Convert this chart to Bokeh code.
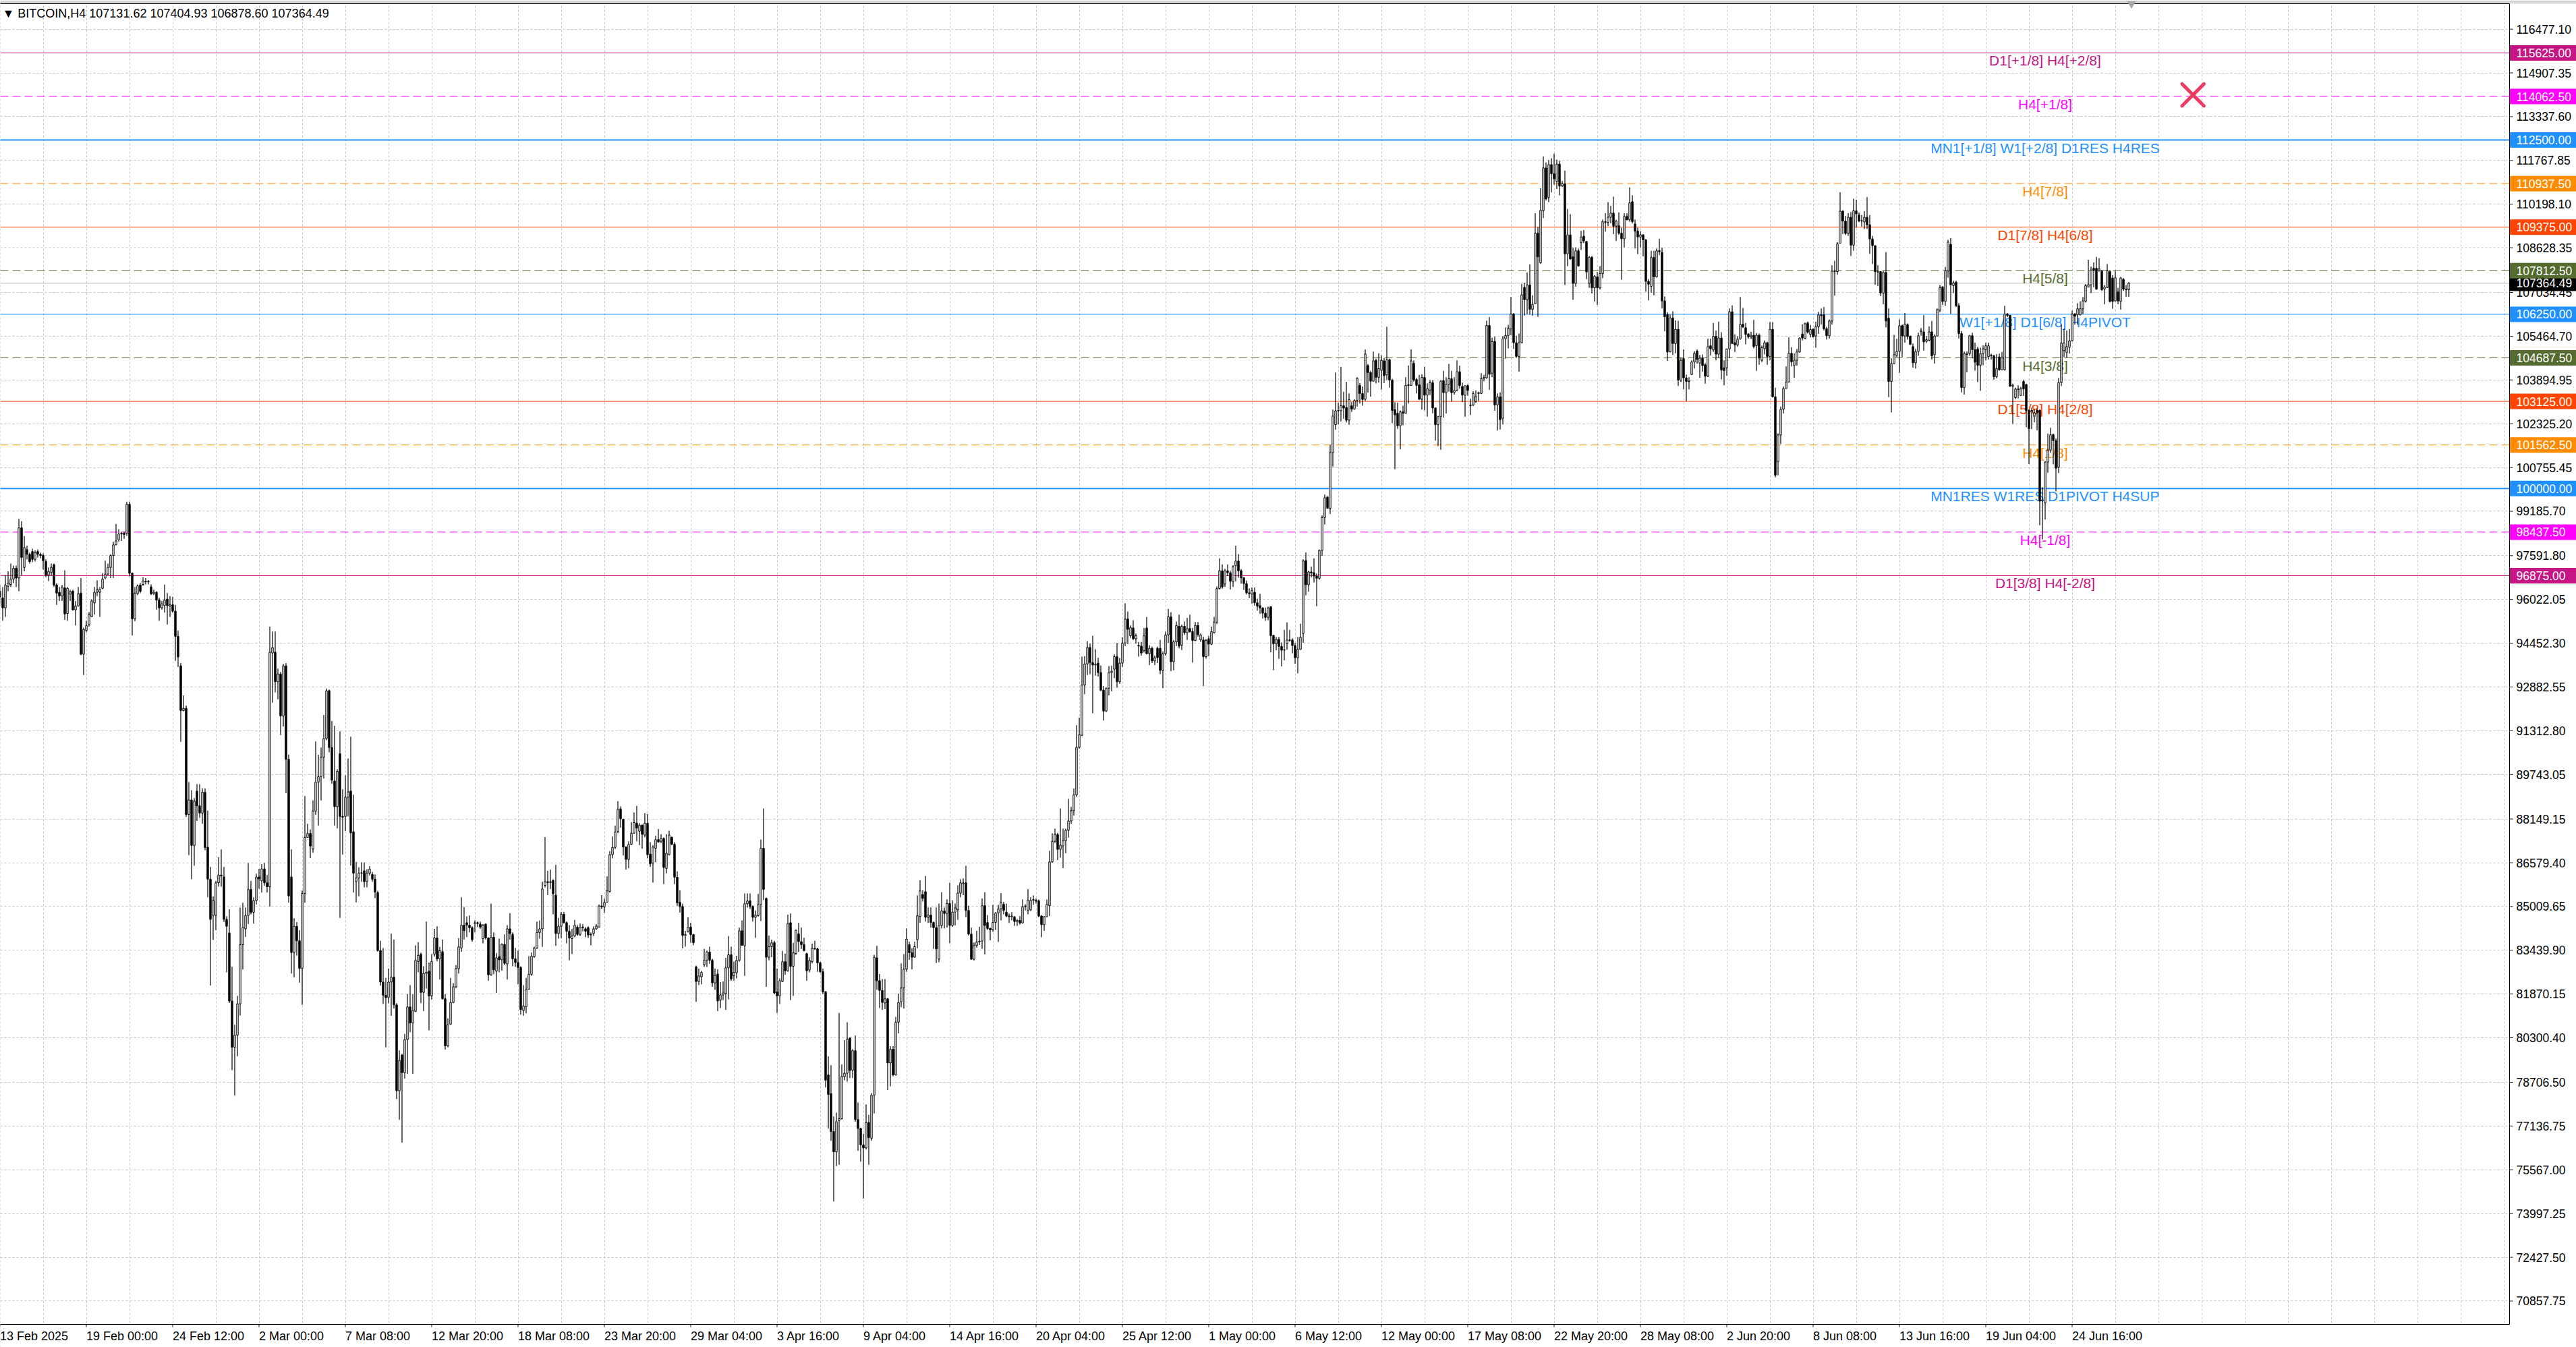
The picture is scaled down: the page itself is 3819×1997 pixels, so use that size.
import numpy as np
from bokeh.plotting import figure
from bokeh.models import FixedTicker, Span, BoxAnnotation, Range1d
from bokeh.core.properties import value
from bokeh.embed import file_html
from bokeh.resources import INLINE

# BITCOIN H4 candles (bar index 0 = 13 Feb 2025 12:00)
opens = [
    96320, 96080, 95720, 96490, 96560, 96750, 97140, 96790, 98590, 97170,
    97810, 97640, 97740, 97460, 97740, 97640, 97600, 97380, 96890, 96990,
    97270, 96540, 96280, 96140, 96440, 95520, 96210, 96320, 95650, 95790,
    96250, 94060, 94910, 95120, 95410, 95900, 96280, 96280, 96420, 96790,
    96930, 97170, 97600, 97980, 98160, 98370, 98400, 98400, 99440, 96960,
    95330, 96230, 96540, 96560, 96680, 96650, 96470, 96230, 96280, 96000,
    95720, 95800, 96040, 95790, 95830, 95600, 94700, 93640, 92040, 92120,
    88310, 88830, 87200, 89150, 88620, 88360, 89110, 87130, 85990, 84690,
    84690, 85860, 86140, 86070, 84550, 84060, 81620, 79960, 80390, 81520,
    83640, 84210, 84690, 85620, 84800, 85220, 86070, 85930, 86360, 85860,
    85720, 94100, 94130, 93070, 93350, 91840, 93640, 90290, 86070, 83360,
    84300, 83780, 82790, 85480, 87490, 87630, 87070, 88430, 89470, 89670,
    90360, 91030, 92750, 90710, 89510, 88590, 90490, 88240, 88240, 88930,
    89150, 87690, 85900, 86030, 86200, 86290, 85900, 86200, 86160, 85990,
    85510, 83430, 82300, 81830, 81740, 82300, 82480, 81480, 78400, 79680,
    79050, 80240, 81410, 80830, 81250, 83040, 83300, 81930, 82610, 82690,
    81800, 83300, 83880, 83130, 83390, 81700, 80010, 80790, 81570, 82130,
    82780, 83520, 84340, 84430, 84340, 84250, 84400, 84430, 84380, 83860,
    84380, 83880, 82560, 83910, 82690, 83210, 83100, 83650, 82950, 84210,
    84010, 83130, 83000, 82820, 81280, 81410, 82040, 82580, 83210, 83520,
    84080, 84210, 85770, 85900, 85870, 85940, 85420, 84040, 84300, 84730,
    84430, 84120, 83860, 83950, 84270, 84010, 84270, 84210, 84250, 83990,
    84040, 84210, 84270, 85030, 84990, 85160, 85550, 86870, 87130, 87700,
    88510, 88140, 87140, 86700, 87240, 87640, 88000, 87710, 87930, 87570,
    88000, 86890, 86560, 87100, 87410, 87350, 87450, 86380, 86870, 87490,
    87240, 86060, 85160, 85010, 83970, 84110, 84270, 84000, 82840, 82320,
    82490, 82920, 83080, 83380, 83080, 82270, 82590, 81650, 81840, 81890,
    82810, 83280, 82520, 82630, 83080, 84140, 83600, 85110, 85210, 85010,
    84620, 84680, 85080, 87100, 85300, 83190, 83570, 83710, 81950, 81800,
    82320, 83030, 82700, 84430, 82860, 83320, 84030, 83750, 83640, 83320,
    82730, 83030, 83510, 83490, 82990, 82670, 81950, 78970, 78300, 76940,
    76210, 77330, 77400, 78900, 79030, 80290, 79130, 79840, 77370, 77050,
    76460, 76350, 77260, 76700, 78240, 83170, 82350, 82000, 81550, 81700,
    79400, 79890, 78970, 80860, 81590, 82090, 82760, 83640, 83350, 83190,
    83820, 84650, 85440, 85540, 84620, 84700, 84440, 84250, 83120, 84330,
    84850, 84760, 85120, 84330, 84810, 84890, 85490, 85830, 85860, 84870,
    84020, 83120, 83610, 83740, 83770, 85040, 84440, 84220, 84170, 84440,
    84780, 84920, 85090, 84810, 84670, 84640, 84640, 84470, 84510, 84420,
    85000, 84870, 84890, 85230, 85230, 85210, 84670, 84360, 84640, 85040,
    86610, 87350, 87590, 87060, 87180, 87370, 87740, 88080, 88450, 89010,
    90720, 91150, 92950, 93710, 94300, 93760, 93670, 93740, 93400, 92770,
    92020, 92840, 93400, 93520, 93970, 93070, 93740, 94460, 95320, 94720,
    95000, 94610, 94380, 94350, 94190, 95000, 94080, 94270, 93820, 94270,
    94270, 93480, 94080, 94750, 95400, 93790, 94500, 95060, 94380, 95060,
    94830, 94980, 94870, 94550, 95090, 94570, 94570, 93970, 94610, 94420,
    94830, 95210, 96410, 97050, 96580, 97050, 96980, 96670, 97230, 97400,
    97050, 96800, 96590, 96260, 96210, 96280, 95900, 95800, 95720, 95530,
    95380, 95760, 94730, 94430, 94590, 94340, 94200, 94450, 94570, 94570,
    94370, 93930, 94230, 94800, 97420, 96550, 97010, 96980, 96860, 96780,
    97780, 98960, 99690, 99290, 101290, 102290, 102790, 102790, 102970, 102910,
    102450, 102970, 102850, 103160, 103700, 103410, 103200, 104410, 104160, 103850,
    104600, 103990, 104240, 104580, 104080, 104620, 103890, 102830, 102700, 102250,
    102750, 102700, 103720, 103700, 104490, 103910, 103720, 103200, 103990, 103350,
    103520, 103800, 102890, 102290, 102580, 103870, 103440, 103740, 103940, 103440,
    103520, 104190, 103660, 103350, 103690, 102970, 103000, 103120, 103410, 103410,
    103940, 103970, 105850, 104140, 105280, 103000, 103290, 102520, 105370, 105490,
    105720, 106260, 105230, 104740, 105230, 107220, 106770, 107300, 106430, 106620,
    109160, 108100, 109960, 111500, 110440, 111620, 111290, 111010, 111640, 110850,
    110930, 108420, 109100, 108310, 107360, 108530, 108820, 109050, 108860, 107360,
    108290, 107200, 107590, 107200, 107710, 109570, 109550, 109730, 109880, 109410,
    109430, 109160, 108960, 109760, 109640, 110290, 109490, 109230, 109020, 109100,
    108920, 107430, 107250, 108290, 107590, 108530, 108470, 106730, 106240, 104900,
    106120, 105200, 105710, 103890, 104660, 103970, 103840, 104090, 104540, 104930,
    104500, 104680, 104440, 104030, 105120, 104970, 105460, 104820, 105400, 104330,
    104330, 105010, 106340, 105230, 105150, 105360, 105890, 105770, 105540, 105440,
    105500, 105120, 105500, 104600, 105010, 105230, 104740, 105710, 103290, 100970,
    101920, 102840, 103590, 103820, 104850, 104410, 104600, 104900, 105540, 105380,
    105940, 105530, 105710, 105470, 105800, 106230, 106230, 105730, 105480, 106010,
    107800, 107780, 108800, 109950, 109590, 109150, 109730, 108730, 109960, 109810,
    109590, 109560, 109730, 109460, 108950, 108710, 107780, 107780, 107010, 107750,
    106110, 103840, 104480, 104780, 104920, 105840, 105470, 105880, 105470, 105090,
    104510, 104920, 105630, 105620, 105280, 105320, 105620, 104800, 105470, 106400,
    107230, 106710, 107800, 108760, 107280, 107400, 106560, 105560, 103620, 104810,
    104840, 105480, 104980, 105010, 104420, 104840, 104980, 104730, 104780, 104760,
    104010, 104720, 104260, 104260, 106260, 106210, 103670, 103260, 103570, 103340,
    103840, 103730, 102800, 102750, 102590, 102800, 102800, 99550, 99490, 100950,
    101380, 101930, 101720, 100760, 103800, 104950, 104880, 105070, 105300, 106260,
    106230, 106230, 106450, 106710, 107230, 107300, 107900, 107900, 107810, 107810,
    107150, 107210, 107780, 107550, 106730, 107050, 106710, 107510, 107150, 107131.62,
]

highs = [
    96540, 96470, 96890, 97030, 97310, 97240, 97240, 98910, 98830, 98300,
    97950, 97700, 97840, 97780, 97810, 97700, 97670, 97460, 97170, 97310,
    97310, 96610, 96470, 96540, 97070, 96470, 96370, 96370, 95970, 96470,
    96790, 95010, 95260, 95570, 96030, 96470, 96710, 96470, 96960, 97410,
    97310, 97640, 98090, 98730, 98540, 98450, 98450, 99530, 99530, 96990,
    96470, 96560, 96610, 96820, 96790, 96720, 96560, 96370, 96320, 96080,
    95970, 96560, 96250, 96140, 96110, 95830, 94910, 93740, 92580, 92220,
    89470, 89180, 88900, 89400, 89400, 89250, 89250, 88450, 86430, 85370,
    85930, 86780, 87060, 86430, 84660, 84910, 82850, 80770, 81800, 84970,
    85150, 84970, 86570, 85930, 85340, 86190, 86360, 86530, 86570, 86140,
    95050, 94870, 94870, 93540, 93430, 93710, 93740, 90460, 87060, 84590,
    84450, 84160, 85580, 88970, 87980, 87770, 88820, 90930, 90450, 90710,
    91880, 92830, 92790, 91660, 91490, 89930, 91290, 89210, 89710, 90320,
    91100, 89020, 86610, 86420, 86590, 86590, 86350, 86460, 86250, 86160,
    85570, 83780, 83520, 82450, 82780, 84040, 83820, 81540, 79850, 79720,
    80440, 81870, 82190, 81870, 83620, 83730, 83360, 82870, 84470, 83000,
    83300, 84210, 84300, 83560, 83820, 81870, 81000, 82450, 82260, 82910,
    83880, 85340, 84990, 84660, 84690, 84300, 84510, 84470, 84470, 84380,
    84400, 83910, 85120, 84080, 83340, 83860, 83690, 84010, 84340, 84770,
    84080, 83520, 83430, 82870, 82190, 82450, 83230, 83360, 83560, 84470,
    84510, 85900, 87500, 86290, 86330, 85990, 86510, 84600, 84820, 84820,
    84470, 84340, 84210, 84530, 84340, 84400, 84380, 84270, 84300, 84080,
    84300, 84380, 85080, 85420, 85290, 86090, 87000, 87520, 87910, 88790,
    88600, 88160, 87170, 87350, 88030, 88380, 88620, 88000, 87950, 88360,
    88330, 87320, 87210, 87540, 87790, 87600, 87490, 87600, 87730, 87520,
    87320, 86270, 85590, 85110, 84140, 84620, 84430, 84030, 82890, 82780,
    82700, 83490, 83430, 83570, 83140, 82780, 82760, 82300, 82320, 83170,
    83950, 83570, 83030, 83240, 84250, 84510, 85480, 85480, 85480, 85050,
    84870, 85460, 87410, 88530, 85330, 83970, 83820, 83780, 82780, 82430,
    83410, 83320, 84720, 84760, 83710, 84180, 84430, 84250, 83890, 83350,
    83190, 83680, 83780, 83530, 83030, 82780, 81980, 79640, 79320, 77480,
    77620, 81190, 79350, 80220, 80860, 80320, 79890, 80380, 77980, 77080,
    76860, 77910, 77540, 78320, 83280, 83600, 82590, 82410, 82410, 81730,
    80000, 80000, 81050, 81890, 82970, 83300, 84220, 83750, 83510, 83750,
    85410, 85950, 85590, 86110, 84980, 84980, 84470, 84980, 85120, 85520,
    84980, 85260, 85860, 85230, 85120, 85770, 85990, 86020, 86470, 85040,
    84250, 83720, 84140, 84280, 85300, 85520, 84700, 84250, 85070, 84810,
    85070, 85490, 85180, 85120, 84760, 84810, 84670, 84550, 84670, 85260,
    85090, 85630, 85340, 85410, 85300, 85260, 84700, 84670, 85260, 87010,
    87630, 87800, 87660, 88530, 87800, 87800, 88870, 88580, 89240, 91510,
    91790, 93970, 93990, 94530, 94440, 94720, 94240, 93930, 93650, 92920,
    92860, 93630, 93650, 94050, 94460, 93930, 94660, 95880, 95590, 95090,
    95280, 94800, 94500, 94500, 95000, 95400, 94380, 94330, 94010, 94330,
    94570, 94160, 94870, 95680, 95570, 94570, 95230, 95480, 95120, 95230,
    95360, 95480, 95000, 95210, 95210, 94800, 94690, 94610, 94720, 95050,
    95400, 96490, 97500, 97280, 97120, 97280, 97050, 97250, 97950, 97650,
    97110, 96810, 96700, 96420, 96450, 96450, 96050, 96230, 95730, 95730,
    95760, 95780, 94760, 94680, 94680, 94480, 94930, 95200, 94930, 94630,
    94470, 94680, 95150, 97460, 97710, 97050, 97200, 97500, 96950, 97810,
    99040, 99790, 99730, 101560, 102830, 104160, 103080, 104370, 103470, 103830,
    103410, 103100, 103200, 103990, 103790, 103660, 104990, 104470, 104220, 104910,
    104660, 104850, 104770, 104680, 105800, 104660, 103940, 103100, 103080, 102800,
    102970, 103990, 104410, 104990, 104600, 103970, 104080, 104100, 104370, 103770,
    103890, 103890, 102910, 102600, 103890, 104220, 103990, 104470, 104220, 103990,
    104600, 104410, 103800, 103700, 103740, 103220, 103490, 103520, 103470, 104140,
    104080, 106020, 106150, 105410, 105450, 103410, 103450, 105470, 105780, 105870,
    106870, 106300, 105480, 105560, 107340, 107380, 107750, 108040, 106930, 109880,
    109390, 110770, 111910, 111700, 111780, 111850, 112010, 111800, 111750, 111030,
    111400, 110030, 109840, 108640, 108650, 108610, 109240, 109270, 108880, 108340,
    108340, 107650, 107770, 107980, 109650, 109880, 110270, 110140, 110470, 109640,
    109900, 109350, 109880, 109880, 110800, 110520, 109650, 109350, 109230, 109130,
    108940, 107510, 108530, 108530, 108610, 108960, 108640, 106890, 106320, 106240,
    106360, 106030, 106020, 104680, 104990, 104090, 103990, 104600, 104930, 104990,
    104790, 104810, 104500, 105380, 105380, 105940, 105670, 105990, 105610, 104600,
    105010, 106460, 106570, 105530, 105460, 106870, 106480, 105940, 105580, 105620,
    106050, 105580, 105560, 105130, 105310, 105260, 105970, 105970, 103620, 101980,
    102940, 103660, 104380, 105420, 105070, 104850, 105010, 105420, 105890, 105950,
    105990, 105870, 105750, 105980, 106340, 106460, 106510, 105800, 106070, 108010,
    108170, 108840, 110630, 109980, 109780, 109880, 109920, 110400, 110360, 109900,
    109810, 109950, 110450, 109810, 109060, 108730, 108010, 107800, 107810, 108480,
    106460, 104670, 105510, 105370, 106070, 105880, 106300, 105920, 105480, 105200,
    105010, 105590, 105760, 106220, 105470, 105820, 106010, 105530, 106460, 107300,
    107260, 107950, 108920, 108980, 107460, 107460, 106650, 105650, 104920, 104920,
    105510, 105590, 105230, 105090, 105050, 105130, 105230, 105230, 104840, 104800,
    104820, 104840, 104900, 106550, 106300, 106230, 103760, 103620, 103700, 103650,
    103900, 103760, 102840, 102900, 102840, 102880, 102840, 100050, 100980, 101970,
    102180, 101970, 101800, 103970, 105880, 105730, 105670, 105720, 106380, 106300,
    106650, 106710, 106870, 107340, 108210, 107960, 108110, 108310, 108260, 107840,
    107300, 108050, 107840, 107650, 107810, 107200, 107590, 107550, 107300, 107404.93,
]

lows = [
    95830, 95260, 95400, 96320, 96470, 96610, 96470, 96320, 96890, 97030,
    97460, 97310, 97360, 97380, 97530, 97500, 97100, 96820, 96680, 96890,
    96470, 95830, 95970, 95970, 95290, 95260, 95970, 95620, 95090, 95760,
    94020, 93310, 94840, 95050, 95400, 95480, 96140, 95400, 96390, 96750,
    96890, 96790, 96790, 97970, 98090, 98120, 98200, 98300, 96850, 94730,
    95240, 96180, 96250, 96510, 96560, 96560, 96180, 96180, 95660, 95260,
    95660, 95550, 95120, 95400, 95550, 93820, 93600, 90920, 92010, 88220,
    86850, 85990, 86470, 88080, 88190, 87980, 87030, 85340, 82180, 83810,
    84160, 85720, 85720, 84450, 82650, 81550, 79140, 78230, 79640, 81100,
    82750, 83920, 84380, 84730, 84400, 85080, 85650, 85510, 85760, 85510,
    85010, 92320, 92690, 92440, 91160, 91470, 89070, 85150, 82610, 82470,
    83250, 82280, 81480, 85150, 87480, 86750, 86940, 88300, 87910, 88820,
    89600, 90970, 90540, 89410, 87910, 87810, 84600, 86870, 87720, 88240,
    86480, 85510, 85160, 85380, 85900, 85700, 85700, 86120, 85900, 85310,
    83390, 82170, 81520, 79960, 81540, 81090, 81350, 78100, 77360, 76540,
    78840, 79010, 80500, 79010, 81220, 82650, 81540, 81260, 82060, 80570,
    81670, 83210, 83040, 82390, 81670, 79880, 79960, 80760, 81540, 82090,
    82610, 83390, 83820, 83910, 84080, 83750, 84080, 84270, 84210, 83690,
    83820, 82350, 82520, 82580, 81910, 82650, 82710, 82910, 82390, 83820,
    82870, 82840, 82220, 81130, 81090, 81180, 82060, 82520, 83170, 83490,
    83860, 83560, 85700, 85420, 85640, 84730, 83600, 83860, 83880, 84400,
    83690, 83080, 83300, 83910, 83950, 83950, 84120, 83910, 83880, 83620,
    83950, 84170, 84250, 84920, 84790, 85160, 85510, 86740, 87070, 87640,
    87840, 86840, 86330, 86380, 87210, 87620, 87350, 87210, 87080, 87490,
    86740, 86430, 85870, 86600, 87300, 87280, 85810, 86200, 86840, 87210,
    85810, 85030, 84790, 83510, 83570, 84080, 83710, 83620, 81590, 82190,
    82220, 82840, 82840, 82950, 82130, 82020, 81260, 81370, 81650, 81300,
    81680, 82350, 82350, 82430, 83030, 83600, 82520, 84970, 84920, 84470,
    83890, 84650, 84490, 85240, 82130, 83080, 83190, 81870, 81190, 81510,
    82300, 82560, 82670, 81650, 81800, 83280, 83380, 83490, 83400, 82350,
    82650, 82970, 83460, 82670, 82630, 81870, 78520, 77050, 76610, 74430,
    75700, 75750, 77370, 78780, 78730, 78860, 78860, 77290, 76250, 75860,
    74540, 76290, 75750, 76610, 77590, 82020, 81370, 81300, 81330, 78430,
    78560, 78920, 78950, 80460, 81400, 81350, 82670, 83100, 82760, 83170,
    83510, 84430, 85190, 84470, 84420, 84250, 83490, 82980, 83010, 84220,
    84220, 84250, 83690, 84280, 84330, 84530, 85340, 85420, 84620, 83970,
    83100, 83070, 83540, 83630, 83490, 83290, 84170, 83800, 84100, 84170,
    83740, 84510, 84730, 84620, 84420, 84510, 84310, 84310, 84360, 84400,
    84870, 84730, 84850, 85070, 85120, 84620, 83910, 84140, 84620, 84670,
    86580, 87290, 86670, 86760, 86390, 86920, 87480, 87970, 88270, 88940,
    90670, 91120, 92620, 93310, 93340, 91940, 93290, 93260, 92730, 91680,
    91980, 92580, 92730, 93200, 92860, 93000, 93600, 94350, 94420, 94640,
    94570, 94440, 93970, 94010, 94120, 94050, 93670, 93740, 93670, 93740,
    93340, 92840, 94010, 94460, 93450, 93480, 94350, 94270, 94210, 94750,
    94570, 94830, 93760, 94530, 94690, 94500, 92920, 93900, 93990, 94380,
    94800, 95140, 96380, 96410, 96470, 96860, 96380, 96470, 96670, 96800,
    96590, 96360, 96200, 96070, 95870, 95800, 95620, 95510, 95340, 95260,
    95280, 94130, 93490, 94200, 93890, 93620, 93840, 94220, 94510, 94090,
    93720, 93370, 94220, 94470, 96170, 96300, 96810, 96630, 95780, 96730,
    97590, 98710, 99280, 99090, 100790, 102110, 102300, 102410, 102500, 102370,
    102290, 102750, 102830, 102940, 103050, 102970, 103140, 103440, 103300, 103850,
    103770, 103800, 103550, 103780, 103890, 103620, 102350, 100690, 102140, 101410,
    102270, 102690, 103050, 103690, 103830, 103410, 103190, 102830, 102800, 102580,
    103350, 102700, 101720, 101520, 101390, 102550, 102690, 103470, 103120, 103370,
    103490, 103580, 103100, 102580, 103330, 102640, 102950, 103080, 103140, 103390,
    103850, 103940, 103540, 103990, 102790, 102080, 102120, 102300, 104660, 105030,
    105500, 105010, 104680, 104190, 105210, 106200, 106260, 106240, 106200, 106610,
    106160, 108060, 109700, 110330, 110270, 110620, 110900, 110740, 110520, 110820,
    107300, 107980, 108200, 106770, 107240, 107960, 108560, 108800, 107510, 107200,
    107000, 106710, 106590, 107140, 107550, 109210, 109410, 109510, 109130, 108880,
    109100, 107490, 108650, 109620, 109570, 109510, 108610, 108410, 108650, 108330,
    107060, 106750, 107020, 106930, 107570, 108370, 106460, 105640, 104580, 104890,
    104790, 104850, 103680, 103820, 103560, 103130, 103560, 104070, 104310, 104480,
    103970, 104190, 103760, 104000, 104770, 104900, 104600, 104680, 103920, 103700,
    104050, 104680, 105200, 104900, 105090, 105340, 105750, 105170, 105380, 105360,
    105030, 104220, 104440, 104540, 104810, 104440, 104600, 103270, 100400, 100470,
    101600, 102690, 103580, 103810, 104380, 103970, 104410, 104870, 105310, 105360,
    105560, 105420, 105420, 105050, 105550, 105880, 105670, 105340, 105380, 105880,
    106920, 107670, 108790, 109130, 109090, 109060, 108340, 108530, 109360, 109560,
    109400, 109310, 109310, 108420, 108050, 107310, 107260, 106900, 106610, 105780,
    103280, 102730, 104460, 104720, 104150, 104720, 105230, 105340, 105150, 104340,
    104300, 104760, 105480, 104950, 105220, 105280, 104630, 104480, 105450, 106320,
    106590, 106550, 107560, 106260, 107010, 106510, 105380, 103450, 103370, 104170,
    104760, 104670, 104230, 103820, 103510, 104420, 104590, 104630, 104630, 103900,
    103950, 104230, 104260, 104230, 106150, 103650, 102320, 103200, 103230, 103320,
    103320, 102200, 100880, 102130, 102380, 102090, 98680, 98180, 98890, 100570,
    101280, 100870, 99900, 100550, 103670, 104710, 104700, 104840, 105280, 105880,
    105880, 106210, 106260, 106670, 107210, 107010, 107210, 107130, 107780, 107090,
    106610, 107200, 106670, 106450, 106710, 106610, 106420, 107090, 106880, 106878.60,
]

closes = [
    96110, 95720, 96540, 96610, 96750, 97140, 96790, 98590, 97530, 97880,
    97640, 97380, 97460, 97700, 97640, 97600, 97410, 96890, 97030, 97170,
    96540, 96250, 96140, 96470, 95500, 96420, 96310, 95650, 95790, 96230,
    94060, 94950, 95090, 95480, 95970, 96280, 96370, 96390, 96750, 96930,
    97170, 97600, 97980, 98120, 98370, 98400, 98350, 99440, 96960, 95330,
    96250, 96510, 96310, 96680, 96650, 96680, 96230, 96280, 96000, 95720,
    95860, 96000, 95800, 95830, 95600, 94700, 93960, 92040, 92120, 88310,
    88830, 87200, 88790, 88620, 88360, 89110, 87130, 85990, 84550, 85220,
    85860, 86140, 86100, 84550, 84300, 81620, 79960, 80390, 81520, 83640,
    84260, 84690, 85620, 84800, 85220, 86070, 86000, 86360, 85860, 85720,
    94130, 94300, 93070, 93350, 91840, 93640, 90290, 85390, 83360, 84300,
    83780, 82790, 85480, 87490, 87630, 87180, 88430, 89470, 89670, 90360,
    91030, 92750, 90710, 89540, 88590, 89860, 88240, 88210, 88930, 89120,
    87650, 86200, 86030, 86200, 86220, 85900, 86200, 86350, 85990, 85530,
    83430, 82300, 81830, 81740, 82300, 82480, 81480, 78400, 79490, 79050,
    80240, 81410, 80830, 81280, 83080, 83260, 81930, 82610, 82650, 81800,
    83040, 83880, 83130, 83430, 81700, 80010, 80760, 81570, 82130, 82780,
    83560, 84340, 84140, 84340, 84250, 83820, 84430, 84400, 84270, 84340,
    83880, 82560, 83910, 82740, 83170, 83100, 83650, 82970, 84210, 84040,
    83130, 83000, 82820, 81310, 81440, 82040, 82580, 83230, 83520, 84080,
    84210, 85640, 85900, 85870, 85900, 85470, 84040, 84300, 84730, 84430,
    84120, 83880, 83950, 84340, 84010, 84270, 84250, 84120, 83990, 84010,
    84210, 84310, 85030, 84990, 85160, 85570, 86870, 87130, 87680, 88490,
    88160, 87140, 86700, 87240, 87640, 88020, 87820, 87930, 87600, 88000,
    86870, 86540, 87140, 87410, 87320, 87450, 86410, 86920, 87570, 87240,
    86060, 85140, 85010, 83970, 84010, 84270, 84000, 83710, 82320, 82520,
    82650, 83080, 83380, 83080, 82270, 82540, 81620, 81840, 81910, 82810,
    83280, 82410, 82650, 83080, 84140, 83620, 85110, 85210, 85010, 84620,
    84700, 85080, 87100, 85620, 83190, 83570, 83710, 81910, 81800, 82350,
    83030, 82700, 84400, 82860, 83350, 84160, 83750, 83640, 83430, 82700,
    83080, 83510, 83490, 82990, 82670, 81950, 78780, 78270, 76940, 76210,
    77290, 77400, 78920, 79030, 80250, 79130, 79840, 77370, 77050, 76460,
    76350, 77260, 76720, 78240, 83190, 82350, 82000, 81570, 81700, 79400,
    79890, 78970, 80860, 81570, 82090, 82760, 83840, 83350, 83190, 83570,
    84680, 85570, 85300, 84620, 84700, 84440, 84250, 83490, 84330, 84850,
    84760, 85120, 84330, 84810, 84960, 85490, 85860, 85860, 84870, 84020,
    83120, 83610, 83740, 83770, 85040, 84330, 84220, 84170, 84440, 84780,
    84920, 85150, 84870, 84670, 84640, 84670, 84470, 84510, 84420, 85000,
    85030, 85230, 85230, 85260, 85200, 84670, 84360, 84640, 85090, 86610,
    87350, 87590, 87060, 87210, 87370, 87740, 88080, 88450, 89010, 90720,
    91170, 92950, 93710, 94300, 93760, 93670, 93710, 93400, 92770, 92020,
    92840, 93400, 93450, 93970, 93070, 93740, 94460, 95320, 94950, 95020,
    94610, 94720, 94350, 94100, 94720, 94080, 94270, 93820, 93930, 93930,
    93480, 94080, 94750, 95400, 93790, 94500, 95090, 94350, 95060, 94830,
    94980, 94870, 94550, 95090, 94760, 94750, 93970, 94550, 94420, 94870,
    95210, 96410, 97050, 96470, 97050, 96980, 96670, 97200, 97400, 97050,
    96800, 96590, 96260, 96230, 96340, 95900, 95780, 95720, 95530, 95380,
    95720, 94720, 94430, 94590, 94340, 94200, 94220, 94570, 94550, 94370,
    93930, 94230, 94670, 97400, 96550, 97010, 96970, 96860, 96780, 97780,
    98960, 99670, 99290, 101290, 102600, 102790, 102800, 102970, 102890, 102450,
    103190, 102850, 103160, 103950, 103410, 103190, 104830, 104160, 103850, 104580,
    103990, 104300, 104600, 104050, 104620, 103890, 102800, 102640, 102250, 102750,
    102700, 103700, 103690, 104580, 103890, 103700, 103200, 103990, 103350, 103580,
    103800, 102890, 102290, 102580, 103850, 103440, 103740, 103940, 103440, 103520,
    104190, 103690, 103350, 103690, 103520, 103000, 103410, 103300, 103440, 103940,
    103990, 105850, 104100, 105270, 103000, 103290, 102470, 105370, 105490, 105740,
    106260, 105230, 104740, 105230, 106950, 106770, 107300, 106430, 106610, 109160,
    108310, 109980, 111500, 110390, 111620, 111290, 111110, 111640, 110850, 110930,
    108420, 109100, 108240, 107360, 108530, 107980, 109020, 108880, 107770, 108290,
    107200, 107610, 107200, 107710, 109570, 109550, 109730, 109880, 109410, 109590,
    109160, 108960, 109760, 109640, 110250, 109570, 109230, 109020, 109100, 108920,
    107430, 107330, 108290, 107590, 108530, 108490, 106730, 106160, 104900, 106120,
    105200, 105710, 103890, 104600, 103970, 103840, 103890, 104540, 104850, 104630,
    104680, 104410, 104030, 105090, 105010, 105460, 104820, 105400, 104250, 104230,
    105010, 106340, 105200, 105150, 105360, 105890, 105800, 105530, 105440, 105480,
    105090, 105500, 104680, 105050, 105230, 104740, 105710, 103290, 100480, 101920,
    102840, 103590, 103820, 104850, 104540, 104600, 104900, 105400, 105400, 105910,
    105610, 105710, 105440, 105800, 106230, 106200, 105730, 105480, 106010, 107800,
    107780, 108780, 109950, 109590, 109150, 109730, 108730, 109960, 109850, 109590,
    109610, 109730, 109460, 108950, 108710, 107780, 107760, 107010, 107750, 106010,
    103840, 104480, 104800, 104920, 105840, 105470, 105900, 105450, 105170, 104510,
    104920, 105480, 105670, 105260, 105340, 105620, 104760, 105470, 106420, 107210,
    106710, 107810, 108840, 107300, 107380, 106560, 105560, 103620, 104840, 104840,
    105480, 104980, 104530, 104420, 104840, 105010, 105120, 105120, 104760, 104010,
    104300, 104260, 104720, 106260, 106210, 103670, 103710, 103570, 103550, 103590,
    103570, 102800, 102150, 102800, 102720, 102730, 99550, 99590, 100950, 101380,
    101930, 101720, 100730, 103800, 105220, 105220, 105090, 105300, 106260, 106180,
    106450, 106450, 106730, 107280, 107310, 107840, 107840, 107150, 107880, 107130,
    107230, 107810, 106710, 106710, 107560, 106730, 107550, 107150, 107130, 107364.49,
]

# time scale: one label every 32 bars
date_labels = [
    "13 Feb 2025", "19 Feb 00:00", "24 Feb 12:00", "2 Mar 00:00", "7 Mar 08:00",
    "12 Mar 20:00", "18 Mar 08:00", "23 Mar 20:00", "29 Mar 04:00", "3 Apr 16:00",
    "9 Apr 04:00", "14 Apr 16:00", "20 Apr 04:00", "25 Apr 12:00", "1 May 00:00",
    "6 May 12:00", "12 May 00:00", "17 May 08:00", "22 May 20:00", "28 May 08:00",
    "2 Jun 20:00", "8 Jun 08:00", "13 Jun 16:00", "19 Jun 04:00", "24 Jun 16:00",
]
label_step = 32
grid_step = 16

price_ticks = [
    116477.10, 114907.35, 113337.60, 111767.85, 110198.10, 108628.35, 107034.45,
    105464.70, 103894.95, 102325.20, 100755.45, 99185.70, 97591.80, 96022.05,
    94452.30, 92882.55, 91312.80, 89743.05, 88149.15, 86579.40, 85009.65,
    83439.90, 81870.15, 80300.40, 78706.50, 77136.75, 75567.00, 73997.25,
    72427.50, 70857.75,
]

# Murrey math levels
levels = [115625.0, 114062.5, 112500.0, 110937.5, 109375.0, 107812.5, 106250.0,
          104687.5, 103125.0, 101562.5, 100000.0, 98437.5, 96875.0]
level_names = [
    "D1[+1/8] H4[+2/8]", "H4[+1/8]", "MN1[+1/8] W1[+2/8] D1RES H4RES", "H4[7/8]",
    "D1[7/8] H4[6/8]", "H4[5/8]", "W1[+1/8] D1[6/8] H4PIVOT", "H4[3/8]",
    "D1[5/8] H4[2/8]", "H4[1/8]", "MN1RES W1RES D1PIVOT H4SUP", "H4[-1/8]",
    "D1[3/8] H4[-2/8]",
]
level_colors = ["#C71585", "#FF00FF", "#1E90FF", "#FF8C00", "#FF4500", "#556B2F", "#1E90FF",
                "#556B2F", "#FF4500", "#FF8C00", "#1E90FF", "#FF00FF", "#C71585"]
level_dash = ["solid", "12 6", "solid", "12 6", "solid", "12 6", "solid",
              "12 6", "solid", "12 6", "solid", "12 6", "solid"]
level_width = [1, 1, 2, 1, 1, 1, 1, 1, 1, 1, 2, 1, 1]
label_bar = 758

bid = 107364.49
cross_bar, cross_price = 812.8, 114120
shift_bar = 790
header = "\u25bc BITCOIN,H4  107131.62 107404.93 106878.60 107364.49"

FONT = "Liberation Sans"
W, H = 3819, 1997

o = np.array(opens, dtype=float)
h = np.array(highs, dtype=float)
l = np.array(lows, dtype=float)
c = np.array(closes, dtype=float)
idx = np.arange(len(c))
hi = np.maximum(h, np.maximum(o, c))
lo = np.minimum(l, np.minimum(o, c))
up = c >= o

# one frame covers the whole canvas; chart area ends at the price scale
x_start, x_end = 0.125, 954.875
y_bottom, y_top = 69198.7, 117510.1
axis_x = 930.125          # right edge of the chart area
chart_bottom = 70021.2    # time-scale line
top_line = 117389.1       # top border of the chart area

p = figure(frame_width=W, frame_height=H, x_range=Range1d(x_start, x_end),
           y_range=Range1d(y_bottom, y_top), x_axis_location=None, y_axis_location=None,
           output_backend="svg", toolbar_location=None, min_border=0)
p.background_fill_color = "white"
p.border_fill_color = "white"
p.outline_line_color = None

p.xgrid.ticker = FixedTicker(ticks=list(range(0, int(axis_x) + 1, grid_step)))
p.ygrid.ticker = FixedTicker(ticks=price_ticks)
for g in (p.xgrid, p.ygrid):
    g.grid_line_color = "#C3C3C3"
    g.grid_line_dash = "3 3"
    g.grid_line_width = 1

for lv, col, ds, w in zip(levels, level_colors, level_dash, level_width):
    p.add_layout(Span(location=lv, dimension="width", line_color=col, line_dash=ds,
                      line_width=w, level="underlay"))
p.add_layout(Span(location=bid, dimension="width", line_color="#C0C0C0", line_width=1,
                  level="underlay"))

# keep the scale areas clean
p.add_layout(BoxAnnotation(left=axis_x, fill_color="white", fill_alpha=1, line_color=None, level="underlay"))
p.add_layout(BoxAnnotation(top=chart_bottom, fill_color="white", fill_alpha=1, line_color=None, level="underlay"))
p.add_layout(BoxAnnotation(bottom=top_line, fill_color="#D6D6D6", fill_alpha=1, line_color=None, level="underlay"))

# level names sit under the candles
p.text(x=[label_bar] * len(levels), y=levels, text=level_names, text_color=level_colors,
       text_align="center", text_baseline="top", text_font=value(FONT),
       text_font_size="21px", y_offset=0)

# candles
p.segment(x0=idx, y0=lo, x1=idx, y1=hi, line_color="black", line_width=1.2)
p.vbar(x=idx[up], width=0.6, top=c[up], bottom=o[up], fill_color="white",
       line_color="black", line_width=1)
p.vbar(x=idx[~up], width=0.6, top=o[~up], bottom=c[~up], fill_color="black",
       line_color="black", line_width=1)

# chart frame lines
p.segment(x0=[x_start, axis_x, x_start], y0=[chart_bottom, chart_bottom, top_line],
          x1=[axis_x, axis_x, axis_x], y1=[chart_bottom, top_line, top_line],
          line_color="black", line_width=1)

# time scale
tick_bars = [label_step * i for i in range(len(date_labels))]
p.ray(x=tick_bars, y=[chart_bottom] * len(tick_bars), length=4, length_units="screen",
      angle=-np.pi / 2, line_color="black")
p.text(x=tick_bars, y=[chart_bottom] * len(tick_bars), text=date_labels, text_align="left",
       text_baseline="top", y_offset=7, text_font=value(FONT), text_font_size="18px",
       text_color="black")

# price scale
p.ray(x=[axis_x] * len(price_ticks), y=price_ticks, length=5, length_units="screen",
      angle=0, line_color="black")
p.text(x=[axis_x] * len(price_ticks), y=price_ticks, text=[f"{t:.2f}" for t in price_ticks],
       x_offset=10, text_baseline="middle", text_font=value(FONT), text_font_size="17.5px",
       text_color="black")

# price tags
tag_x = (axis_x + x_end) / 2
p.rect(x=[tag_x], y=[bid], width=98, height=23, width_units="screen", height_units="screen",
       fill_color="black", line_color=None)
p.text(x=[axis_x], y=[bid], text=[f"{bid:.2f}"], x_offset=10, text_baseline="middle",
       text_font=value(FONT), text_font_size="17.5px", text_color="white")
p.rect(x=[tag_x] * len(levels), y=levels, width=98, height=23, width_units="screen",
       height_units="screen", fill_color=level_colors, line_color=None)
p.text(x=[axis_x] * len(levels), y=levels, text=[f"{lv:.2f}" for lv in levels], x_offset=10,
       text_baseline="middle", text_font=value(FONT), text_font_size="17.5px", text_color="white")

# cross object and chart-shift marker
p.scatter(x=[cross_bar], y=[cross_price], marker="x", size=46, line_color="#EC3A62",
          line_width=5, line_cap="round")
p.scatter(x=[shift_bar], y=[top_line], marker="inverted_triangle", size=13,
          fill_color="#A8A8A8", line_color=None)

# symbol header
p.text(x=[x_start], y=[y_top], text=[header], x_offset=3, y_offset=9, text_baseline="top",
       text_font=value(FONT), text_font_size="18px", text_color="black")

open("out.html", "w").write(file_html(p, INLINE))
